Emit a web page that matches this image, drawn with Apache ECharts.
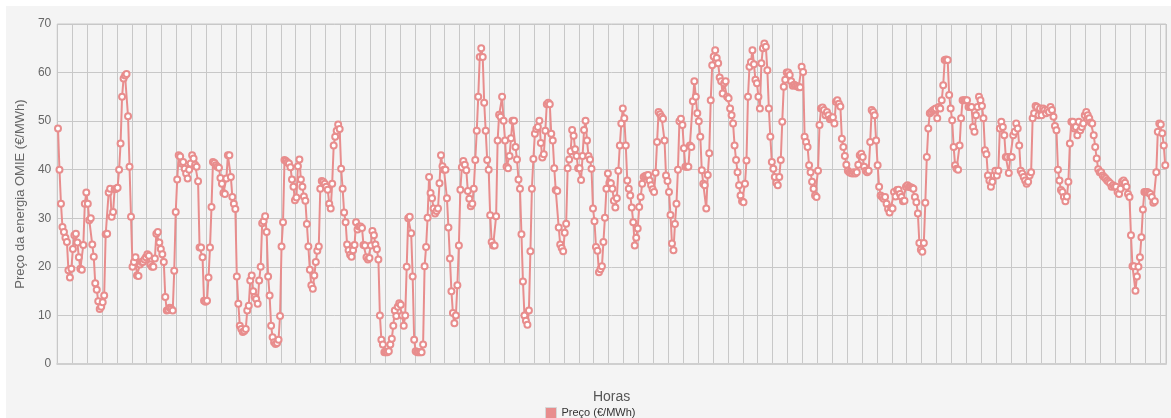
<!DOCTYPE html>
<html>
<head>
<meta charset="utf-8">
<title>Preço OMIE</title>
<script src="https://cdn.jsdelivr.net/npm/echarts@6/dist/echarts.min.js"></script>
<style>
  html, body { margin: 0; padding: 0; background: #fff; }
  #chart { position: absolute; left: 6px; top: 6px; width: 1165px; height: 412px; }
</style>
</head>
<body>
<div id="chart"></div>
<script>
var seriesName = 'Preço (€/MWh)';
var xTitle = 'Horas';
var yTitle = 'Preço da energia OMIE (€/MWh)';
var yMin = 0, yMax = 70, yStep = 10;

// hourly price, one row per 10 hours (one grid column)
var price = [
  48.5, 40, 33, 28.2, 27.2, 26, 25.1, 19.3, 17.8, 19.6,
  23.7, 26.5, 26.8, 25, 22, 19.6, 19.4, 24.5, 33, 35.3,
  33, 29.6, 30, 24.6, 22.1, 16.6, 15.3, 12.9, 11.3, 11.8,
  12.7, 14.1, 26.7, 26.8, 35.3, 36.1, 30.3, 31.3, 36, 36.1,
  36.3, 40, 45.4, 55, 58.8, 59.4, 59.7, 51, 40.6, 30.3,
  20, 21, 22, 18.2, 18.1, 20.5, 21, 21, 21.5, 22,
  22.6, 22.3, 20.5, 20, 20, 21.7, 26.8, 27.2, 25, 23.7,
  22.6, 21, 13.8, 11, 11.1, 11.6, 11.3, 11, 19.2, 31.3,
  38, 43, 42.7, 41.3, 41.6, 40.2, 39.2, 38.2, 40, 41.3,
  43, 42.3, 41, 40.6, 37.6, 24, 24, 22, 13, 12.8,
  13, 17.8, 24, 32.3, 41.6, 41.4, 40.9, 40.6, 40.4, 38.3,
  37.1, 35.2, 35, 38.2, 43, 43, 38.5, 34.4, 33, 31.9,
  18, 12.4, 7.9, 7.2, 6.6, 6.8, 7.2, 11, 12, 17.2,
  18.2, 15, 13.8, 13.4, 12.4, 17.2, 20, 29, 29.4, 30.4,
  27.2, 18, 14.1, 7.9, 5.5, 4.5, 4.1, 4.3, 5, 9.9,
  24.2, 29.2, 42, 41.8, 41.5, 41.3, 40.5, 38, 36.5, 33.7,
  34.3, 40.7, 42.1, 38, 36.5, 34.5, 33.6, 28.8, 24.2, 19.4,
  16.2, 15.5, 18.2, 21, 23.3, 24.2, 36.1, 37.7, 37.5, 37.1,
  36.5, 35.9, 33, 32, 37.1, 45, 46.8, 48, 49.3, 48.4,
  40.2, 36.1, 31.2, 29.2, 24.6, 23.4, 22.5, 22.1, 23.4, 24.5,
  29.2, 27.7, 28.3, 28.3, 28, 24.5, 24.4, 22, 21.5, 21.8,
  24.4, 27.4, 26.5, 24.6, 23.6, 21.5, 10, 5, 4, 2.4,
  2.4, 2.4, 2.6, 4, 5.2, 7.9, 11, 9.9, 11.8, 12.5,
  12.2, 10, 7.9, 10, 20, 30, 30.3, 26.9, 18, 5,
  2.6, 2.4, 2.4, 2.4, 2.4, 4, 20.1, 24.1, 30.1, 38.5,
  35.2, 34.1, 32, 31, 31.5, 32, 37.2, 43, 40.7, 40,
  40, 34.1, 28.1, 21.7, 15, 10.5, 8.4, 10, 16.2, 24.4,
  35.9, 40.5, 41.8, 41, 39.9, 35.6, 34, 32.5, 33, 36.1,
  42, 48, 55, 63.2, 65, 63.2, 53.8, 48, 42, 40,
  30.6, 25.1, 24.4, 24.4, 30.4, 46, 51.3, 50.9, 55, 50.1,
  46, 40.6, 40.3, 42.8, 46.5, 50.1, 50.1, 44.7, 42.1, 38,
  36.1, 26.7, 17, 10, 8.9, 8.1, 11, 23.2, 36.1, 42.2,
  47.4, 48.4, 48.8, 50.1, 45.5, 42.5, 43.2, 48, 53.5, 53.8,
  53.5, 47.4, 46, 40.3, 35.8, 35.6, 28.1, 24.6, 23.9, 23.2,
  27, 28.9, 40.3, 42.1, 43.8, 48.2, 47, 44.2, 42.8, 40.3,
  40.3, 37.9, 42.8, 48.2, 50.1, 46, 42.8, 42.1, 40.2, 32,
  29.4, 24.1, 23.3, 18.9, 19.5, 20.1, 25.1, 30.1, 36.1, 39.2,
  37.3, 37.2, 36.1, 33.6, 32.2, 34.1, 39.8, 45, 49.5, 52.6,
  50.6, 45, 37.8, 36.1, 34.7, 32.2, 29.2, 24.4, 26, 27.9,
  32.3, 34.4, 37.1, 38.5, 38.7, 38.8, 38.9, 37.8, 36.8, 36,
  35.4, 39.4, 45.7, 51.9, 51.4, 50.9, 50.5, 46, 38.8, 37.7,
  35.4, 30.7, 24.8, 23.4, 28.8, 33, 40, 50, 50.5, 49.2,
  44.4, 40.6, 40.6, 40.6, 45, 44.7, 54.1, 58.2, 55, 51.6,
  50, 46.8, 39.9, 37.1, 36.8, 32, 38.9, 43.4, 54.3, 61.5,
  63.3, 64.6, 63, 61.9, 59, 58.2, 55.7, 57.8, 58.2, 55,
  54.7, 52.6, 51.2, 49.5, 45, 42, 39.5, 36.8, 34.7, 33.5,
  33.3, 37.1, 41.9, 55, 61.2, 62.2, 64.6, 61.7, 58.5, 57.8,
  55, 52.6, 61.9, 65, 66, 65.3, 60.5, 52.6, 46.8, 41.6,
  40.2, 38.5, 37.3, 36.8, 38.5, 42, 49.9, 57.1, 58.5, 60,
  60, 59.5, 58.2, 57.3, 57.5, 57.3, 57.2, 57, 57, 61.2,
  60.1, 46.8, 45.7, 44.7, 40.9, 39.5, 37.5, 36.1, 34.7, 34.4,
  39.8, 49.2, 52.6, 52.8, 52.3, 51.2, 51.9, 51.2, 50.4, 50.6,
  50.8, 49.5, 54, 54.3, 53.6, 53, 46.4, 44.7, 42.8, 41,
  39.8, 39.5, 39.3, 39.2, 39.5, 39.2, 39.5, 41, 43, 43.3,
  42.6, 40.6, 39.8, 39.5, 39.8, 45.7, 52.3, 51.9, 51.2, 46,
  40.9, 36.5, 34.7, 34.4, 34, 34.4, 33, 31.9, 31.2, 32.2,
  32, 35.4, 34.5, 35.8, 35.9, 35, 34.4, 33.5, 33.6, 36.5,
  36.8, 36.5, 36.4, 36.3, 36.1, 34.4, 33.3, 31, 24.9, 23.5,
  23.1, 24.9, 33.2, 42.6, 48.5, 51.6, 51.9, 52.2, 52.4, 52.6,
  50.6, 52.9, 52.6, 54.3, 57.4, 62.6, 62.7, 62.6, 55.4, 52.6,
  50.2, 44.7, 40.9, 40.2, 40, 45, 50.6, 54.3, 54.3, 54.3,
  54.3, 52.9, 52.9, 52.9, 48.8, 47.8, 51.2, 52.9, 55, 54.3,
  53.1, 50.6, 44, 43.2, 38.8, 37.8, 36.5, 37.5, 38.8, 39.8,
  38.8, 39.8, 48.5, 49.9, 48.8, 47.1, 42.6, 42.6, 39.3, 42.6,
  42.6, 47.1, 47.8, 49.5, 48.5, 45, 39.8, 39.2, 38.5, 37.8,
  37.1, 37.5, 38.8, 39.5, 50.6, 51.6, 53.1, 52.9, 51.2, 52.6,
  51.2, 52.6, 52.3, 51.6, 52.3, 51.9, 52.9, 52.3, 50.9, 49,
  48.1, 40, 37.8, 35.8, 35.4, 34.4, 33.5, 34.5, 37.5, 45.4,
  49.9, 49.9, 48.5, 48.8, 47.1, 49.9, 48.1, 48.8, 49.5, 51.2,
  51.9, 51.2, 50.6, 49.7, 49.5, 47.1, 44.7, 42.3, 40.1, 39.5,
  39.5, 38.8, 38.5, 38.2, 37.8, 37.5, 37.2, 36.5, 36.8, 36.5,
  36.5, 35.4, 35, 36.1, 37.5, 37.8, 37.3, 36.5, 35, 34.4,
  26.5, 20.1, 20.1, 15.1, 18, 20, 22, 26.1, 31.8, 35.4,
  35.4, 35.4, 35.2, 35, 34.4, 33.2, 33.5, 39.5, 47.8, 49.5,
  49.3, 47.5, 45, 40.9
];

var hours = [];
for (var i = 0; i < price.length; i++) {
  hours.push(String(i + 1));
}

var chart = echarts.init(document.getElementById('chart'));
chart.setOption({
  animation: false,
  backgroundColor: '#f4f4f4',
  textStyle: {
    fontFamily: '"Liberation Sans", Arial, sans-serif'
  },
  grid: {
    left: 45,
    right: 5,
    top: 18,
    bottom: 54,
    show: true,
    borderColor: '#c8c8c8',
    borderWidth: 1,
    backgroundColor: 'transparent'
  },
  legend: {
    left: 534,
    top: 396,
    icon: 'rect',
    itemWidth: 11,
    itemHeight: 11,
    itemGap: 10,
    textStyle: {
      fontSize: 11,
      color: '#333'
    },
    data: [{
      name: seriesName,
      itemStyle: {
        color: '#e88d8d',
        borderColor: '#d6d6d6',
        borderWidth: 1
      }
    }]
  },
  xAxis: {
    type: 'category',
    data: hours,
    boundaryGap: true,
    name: xTitle,
    nameLocation: 'middle',
    nameGap: 26,
    nameTextStyle: {
      fontSize: 14,
      color: '#555'
    },
    axisLine: {
      lineStyle: {
        color: '#cfcfcf',
        width: 2
      }
    },
    axisTick: { show: false },
    axisLabel: { show: false },
    splitLine: {
      show: true,
      interval: 9,
      lineStyle: {
        color: '#c8c8c8'
      }
    }
  },
  yAxis: {
    type: 'value',
    min: yMin,
    max: yMax,
    interval: yStep,
    name: yTitle,
    nameLocation: 'middle',
    nameGap: 24,
    nameRotate: 90,
    nameTextStyle: {
      fontSize: 13,
      color: '#666'
    },
    axisLine: { show: false },
    axisTick: { show: false },
    axisLabel: {
      fontSize: 12,
      color: '#666',
      margin: 6
    },
    splitLine: {
      lineStyle: {
        color: '#c8c8c8'
      }
    }
  },
  series: [{
    name: seriesName,
    type: 'line',
    data: price,
    symbol: 'circle',
    symbolSize: 6,
    showSymbol: true,
    showAllSymbol: true,
    lineStyle: {
      color: '#e88d8d',
      width: 2
    },
    itemStyle: {
      color: '#fff',
      borderColor: '#e88d8d',
      borderWidth: 2
    },
    emphasis: { disabled: true }
  }]
});
</script>
</body>
</html>
